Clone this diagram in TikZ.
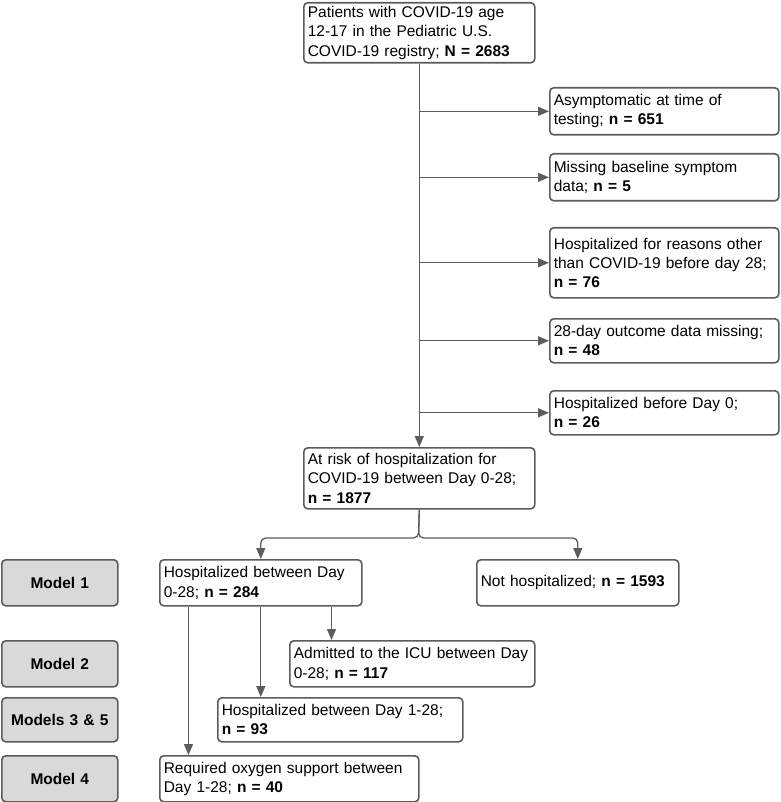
\documentclass[tikz,border=0pt]{standalone}
\usepackage{fontspec}
\setmainfont{Liberation Sans}
\usepackage{tikz}
\usetikzlibrary{arrows.meta}
\usetikzlibrary{positioning}
\definecolor{mgray}{rgb}{0.36, 0.36, 0.36}
\definecolor{mfill}{rgb}{0.85, 0.85, 0.85}
\tikzset{box/.style = {draw=mgray, line width=1.6pt, rounded corners=4pt, fill=white,
                       align=left, inner xsep=4pt, inner ysep=3pt, anchor=north west,
                       font=\fontsize{15.5}{19.2}\selectfont},
         model/.style = {box, fill=mfill, align=center,
                         font=\fontsize{15.5}{19.2}\selectfont\bfseries},
         arr/.style = {draw=mgray, line width=1.3pt, -{Triangle[length=11pt, width=9pt]}}}

\begin{document}
\begin{tikzpicture}[x=1pt, y=-1pt]
    \useasboundingbox (0, 0) rectangle (780, 802);

    \node [box, text width=223pt, minimum height=60pt] (start) at (303, 2)
        {Patients with COVID-19 age\\12-17 in the Pediatric U.S.\\COVID-19 registry; \textbf{N = 2683}};
    \node [box, text width=221pt, minimum height=47pt] (asym) at (549, 87)
        {Asymptomatic at time of\\testing; \textbf{n = 651}};
    \node [box, text width=221pt, minimum height=47pt] (miss) at (549, 153)
        {Missing baseline symptom\\data; \textbf{n = 5}};
    \node [box, text width=221pt, minimum height=70pt] (other) at (549, 227)
        {Hospitalized for reasons other\\than COVID-19 before day 28;\\\textbf{n = 76}};
    \node [box, text width=221pt, minimum height=44pt] (outc) at (549, 318)
        {28-day outcome data missing;\\\textbf{n = 48}};
    \node [box, text width=221pt, minimum height=44pt] (before) at (549, 390)
        {Hospitalized before Day 0;\\\textbf{n = 26}};
    \node [box, text width=223pt, minimum height=61pt] (risk) at (303, 447)
        {At risk of hospitalization for\\COVID-19 between Day 0-28;\\\textbf{n = 1877}};

    \node [box, text width=194pt, minimum height=46pt] (hosp) at (159, 559)
        {Hospitalized between Day\\0-28; \textbf{n = 284}};
    \node [box, text width=194pt, minimum height=46pt] (nohosp) at (476, 559)
        {Not hospitalized; \textbf{n = 1593}};
    \node [box, text width=237pt, minimum height=46pt] (icu) at (289, 640)
        {Admitted to the ICU between Day\\0-28; \textbf{n = 117}};
    \node [box, text width=237pt, minimum height=44pt] (late) at (217, 697)
        {Hospitalized between Day 1-28;\\\textbf{n = 93}};
    \node [box, text width=251pt, minimum height=46pt] (oxy) at (159, 755)
        {Required oxygen support between\\Day 1-28; \textbf{n = 40}};

    \node [model, text width=108pt, minimum height=46pt] (m1) at (1, 559) {Model 1};
    \node [model, text width=108pt, minimum height=46pt] (m2) at (1, 640) {Model 2};
    \node [model, text width=108pt, minimum height=44pt] (m35) at (1, 697) {Models 3 \& 5};
    \node [model, text width=108pt, minimum height=46pt] (m4) at (1, 755) {Model 4};

    % exclusions off the main line
    \draw [arr] (start.south) -- (risk.north);
    \foreach \b in {asym, miss, other, outc, before}
        \draw [arr] (\b.west -| risk.north) -- (\b.west);

    % split by outcome
    \coordinate (split) at (418.5, 538);
    \draw [arr, rounded corners=5pt] (risk.south) -- (split) -| (hosp.north);
    \draw [arr, rounded corners=5pt] (risk.south) -- (split) -| (nohosp.north);

    \coordinate (icux) at (331.5, 0);
    \coordinate (oxyx) at (188.5, 0);
    \draw [arr] (hosp.south -| icux) -- (icu.north -| icux);
    \draw [arr] (hosp.south) -- (late.north -| hosp.south);
    \draw [arr] (hosp.south -| oxyx) -- (oxy.north -| oxyx);
\end{tikzpicture}
\end{document}
